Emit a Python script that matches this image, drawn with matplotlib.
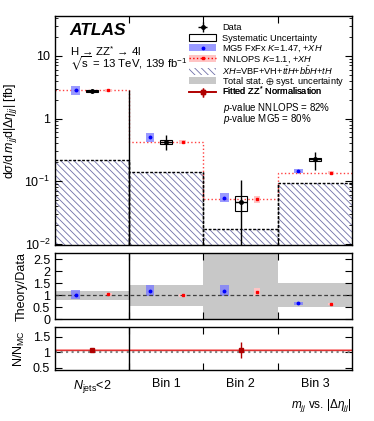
import matplotlib
matplotlib.use("Agg")
import matplotlib.pyplot as plt
import numpy as np
from matplotlib.patches import Patch, Rectangle
from matplotlib.lines import Line2D

plt.rcParams['font.family'] = ['Liberation Sans', 'DejaVu Sans']
plt.rcParams['mathtext.fontset'] = 'custom'
plt.rcParams['mathtext.rm'] = 'Liberation Sans'
plt.rcParams['mathtext.it'] = 'Liberation Sans:italic'
plt.rcParams['mathtext.bf'] = 'Liberation Sans:bold'
plt.rcParams['mathtext.fallback'] = 'stixsans'
plt.rcParams['hatch.linewidth'] = 0.6

# ---- data ----
bin_labels = [r'$N_{\rm jets}$<2', 'Bin 1', 'Bin 2', 'Bin 3']
edges = np.array([0, 1, 2, 3, 4])
centers = edges[:-1] + 0.5

data = np.array([2.72, 0.42, 0.046, 0.223])
data_up = np.array([2.92, 0.54, 0.104, 0.29])
data_dn = np.array([2.55, 0.31, 0.001, 0.154])
syst_up = np.array([2.82, 0.46, 0.058, 0.238])
syst_dn = np.array([2.62, 0.39, 0.034, 0.208])

mg5 = np.array([2.8, 0.50, 0.055, 0.146])
mg5_unc = np.array([0.17, 0.18, 0.18, 0.09])
nnlops = np.array([2.8, 0.425, 0.052, 0.138])
nnlops_unc = np.array([0.06, 0.07, 0.14, 0.05])
xh = np.array([0.215, 0.141, 0.0172, 0.093])

ratio_mg5 = np.array([1.03, 1.20, 1.20, 0.67])
ratio_nnlops = np.array([1.05, 1.00, 1.13, 0.63])
band_lo = np.array([0.82, 0.57, 0.0, 0.53])
band_hi = np.array([1.17, 1.43, 2.78, 1.50])

norm_x = np.array([0.5, 2.5])
norm_val = np.array([1.07, 1.07])
norm_err = np.array([0.02, 0.26])
norm_line = 1.07

legend_labels = ['Data', 'Systematic Uncertainty', r'MG5 FxFx $K$=1.47, +$XH$',
                 r'NNLOPS $K$=1.1, +$XH$',
                 r'$XH$=VBF+VH+$t\bar{t}H$+$b\bar{b}H$+$tH$',
                 r'Total stat. $\oplus$ syst. uncertainty',
                 r'Fitted ZZ$^{*}$ Normalisation']

blue = '#7878ff'
pink = '#ffc4c4'
darkred = '#b00000'
grey = '#c8c8c8'

fig = plt.figure(figsize=(3.74, 4.21), dpi=100)
ax = fig.add_axes([0.147, 0.417, 0.794, 0.545])
axr = fig.add_axes([0.147, 0.2416, 0.794, 0.158])
axn = fig.add_axes([0.147, 0.1211, 0.794, 0.1014])

ylo, yhi = 0.0095, 43
ax.set_yscale('log')
ax.set_ylim(ylo, yhi)

# XH hatched contribution
ax.stairs(xh, edges, baseline=ylo, fill=True, facecolor='white',
          edgecolor='#7070a8', hatch='\\\\\\\\\\', linewidth=0)
ax.stairs(xh, edges, baseline=None, color='black', linestyle=(0, (2, 1.2)), linewidth=1.0)
ax.vlines(edges[1:-1], ylo, xh[:-1], color='black', linestyle=(0, (2, 1.2)), linewidth=1.0)
ax.vlines(edges[1:-1], ylo, xh[1:], color='black', linestyle=(0, (2, 1.2)), linewidth=1.0)

# NNLOPS step
ax.stairs(nnlops, edges, baseline=None, color='#ff4040', linestyle=':', linewidth=1.0)
ax.vlines(1, ylo, nnlops[0], color='black', linewidth=1.0)

w_mg, w_nn, w_d = 0.058, 0.045, 0.08
for i, c in enumerate(centers):
    xm = c - 0.22
    ax.add_patch(Rectangle((xm - w_mg, mg5[i] / (1 + mg5_unc[i])), 2 * w_mg,
                           mg5[i] * (1 + mg5_unc[i]) - mg5[i] / (1 + mg5_unc[i]),
                           facecolor=blue, edgecolor='none', alpha=0.75))
    xn = c + 0.22
    ax.add_patch(Rectangle((xn - w_nn, nnlops[i] / (1 + nnlops_unc[i])), 2 * w_nn,
                           nnlops[i] * (1 + nnlops_unc[i]) - nnlops[i] / (1 + nnlops_unc[i]),
                           facecolor=pink, edgecolor='none'))
    ax.add_patch(Rectangle((c - w_d, syst_dn[i]), 2 * w_d, syst_up[i] - syst_dn[i],
                           facecolor='none', edgecolor='black', linewidth=0.8))
ax.plot(centers - 0.22, mg5, 'o', color='blue', ms=1.8)
ax.plot(centers + 0.22, nnlops, 's', color='red', ms=1.8)
eb = ax.errorbar(centers, data, yerr=[data - data_dn, data_up - data], xerr=w_d,
                 fmt='o', color='black', ms=2.5, elinewidth=1.0, capsize=0)

ax.set_xlim(0, 4)
ax.set_xticks([1, 2, 3])
ax.set_xticklabels([])
ax.set_ylabel(r'd$\sigma$/d$\,m_{jj}$d|$\Delta\eta_{jj}$| [fb]', fontsize=9)
ax.set_yticks([0.01, 0.1, 1, 10])
ax.set_yticklabels([r'$10^{-2}$', r'$10^{-1}$', '1', '10'])

ax.text(0.05, 0.935, 'ATLAS', transform=ax.transAxes, fontsize=12.5,
        fontweight='bold', fontstyle='italic', va='center')
ax.text(0.05, 0.847, 'H → ZZ$^{*}$ → 4l', transform=ax.transAxes,
        fontsize=8.2, va='center')
ax.text(0.05, 0.79, r'$\sqrt{\rm s}$ = 13 TeV, 139 fb$^{-1}$', transform=ax.transAxes,
        fontsize=8.2, va='center')
ax.text(0.565, 0.60, r'$p$-value NNLOPS = 82%', transform=ax.transAxes, fontsize=7, va='center')
ax.text(0.565, 0.553, r'$p$-value MG5 = 80%', transform=ax.transAxes, fontsize=7, va='center')

# bottom panel normalisation
axn.axhspan(norm_line - 0.02, norm_line + 0.02, color='#ffb0b0', lw=0)
axn.axhline(norm_line, color='#e03030', lw=1.0)
axn.axhline(1.0, color='grey', ls=':', lw=1.5)
ebn = axn.errorbar(norm_x, norm_val, yerr=norm_err, fmt='s', color=darkred, ms=3,
                   elinewidth=1.0, capsize=0)

# legend proxies, one row each so the spacing stays even
h_syst = Patch(facecolor='white', edgecolor='black', linewidth=0.8)
h_mg = (Patch(facecolor=blue, alpha=0.75, edgecolor='none'),
        Line2D([], [], marker='o', color='blue', ms=1.8, ls='none'))
h_nn = (Patch(facecolor=pink, edgecolor='none'),
        Line2D([], [], marker='s', color='red', ms=1.8, ls=':', lw=1.0))
h_xh = Patch(facecolor='white', edgecolor='#7070a8', hatch='\\\\\\\\\\', linewidth=0)
h_tot = Patch(facecolor=grey, edgecolor='none')
h_fit = (Line2D([], [], color=darkred, lw=1.2), ebn)
handles = [eb, h_syst, h_mg, h_nn, h_xh, h_tot, h_fit]

for i, (h, lab) in enumerate(zip(handles, legend_labels)):
    lg = ax.legend([h], [lab], loc='center left',
                   bbox_to_anchor=(0.452, 0.949 - i * 0.0465), frameon=False,
                   fontsize=6.7, handlelength=2.9, handleheight=0.75, handletextpad=0.6,
                   borderpad=0, borderaxespad=0)
    ax.add_artist(lg)

# ratio panel
axr.stairs(band_hi, edges, baseline=band_lo, fill=True, color=grey, lw=0)
axr.axhline(1.0, color='#404040', ls=(0, (3, 2)), lw=0.9)
for i, c in enumerate(centers):
    xm = c - 0.22
    axr.add_patch(Rectangle((xm - w_mg, ratio_mg5[i] * (1 - mg5_unc[i])), 2 * w_mg,
                            2 * ratio_mg5[i] * mg5_unc[i], facecolor=blue,
                            edgecolor='none', alpha=0.75))
    xn = c + 0.22
    axr.add_patch(Rectangle((xn - w_nn, ratio_nnlops[i] * (1 - nnlops_unc[i])), 2 * w_nn,
                            2 * ratio_nnlops[i] * nnlops_unc[i], facecolor=pink,
                            edgecolor='none'))
axr.plot(centers - 0.22, ratio_mg5, 'o', color='blue', ms=1.8)
axr.plot(centers + 0.22, ratio_nnlops, 's', color='red', ms=1.8)
axr.axvline(1, color='black', lw=1.0)
axr.set_xlim(0, 4)
axr.set_ylim(0, 2.78)
axr.set_yticks([0, 0.5, 1, 1.5, 2, 2.5])
axr.set_yticklabels(['0', '0.5', '1', '1.5', '2', '2.5'])
axr.set_xticks([1, 2, 3])
axr.set_xticklabels([])
axr.set_ylabel('Theory/Data', fontsize=9)

axn.axvline(1, color='black', lw=1.0)
axn.set_xlim(0, 4)
axn.set_ylim(0.43, 1.8)
axn.set_yticks([0.5, 1, 1.5])
axn.set_yticklabels(['0.5', '1', '1.5'])
axn.set_xticks([1, 2, 3])
axn.set_xticklabels([])
axn.set_xticks(centers, minor=True)
axn.set_xticklabels(bin_labels, minor=True, fontsize=8)
axn.set_ylabel(r'N/N$_{\rm MC}$', fontsize=9)
axn.text(1.0, -0.82, r'$m_{jj}$ vs. |$\Delta\eta_{jj}$|', transform=axn.transAxes,
         ha='right', va='center', fontsize=8.5)

for a in (ax, axr, axn):
    a.tick_params(which='both', direction='in', top=True, right=True, labelsize=9)
    a.tick_params(which='major', length=5)
    a.tick_params(which='minor', length=2.5)
    for s in a.spines.values():
        s.set_linewidth(1.0)
axn.tick_params(axis='x', which='minor', length=0, top=False, pad=6)
axn.yaxis.set_minor_locator(matplotlib.ticker.NullLocator())
axr.yaxis.set_minor_locator(matplotlib.ticker.NullLocator())
ax.xaxis.set_minor_locator(matplotlib.ticker.NullLocator())

fig.align_ylabels([ax, axr, axn])
fig.savefig('out.png', dpi=100)
